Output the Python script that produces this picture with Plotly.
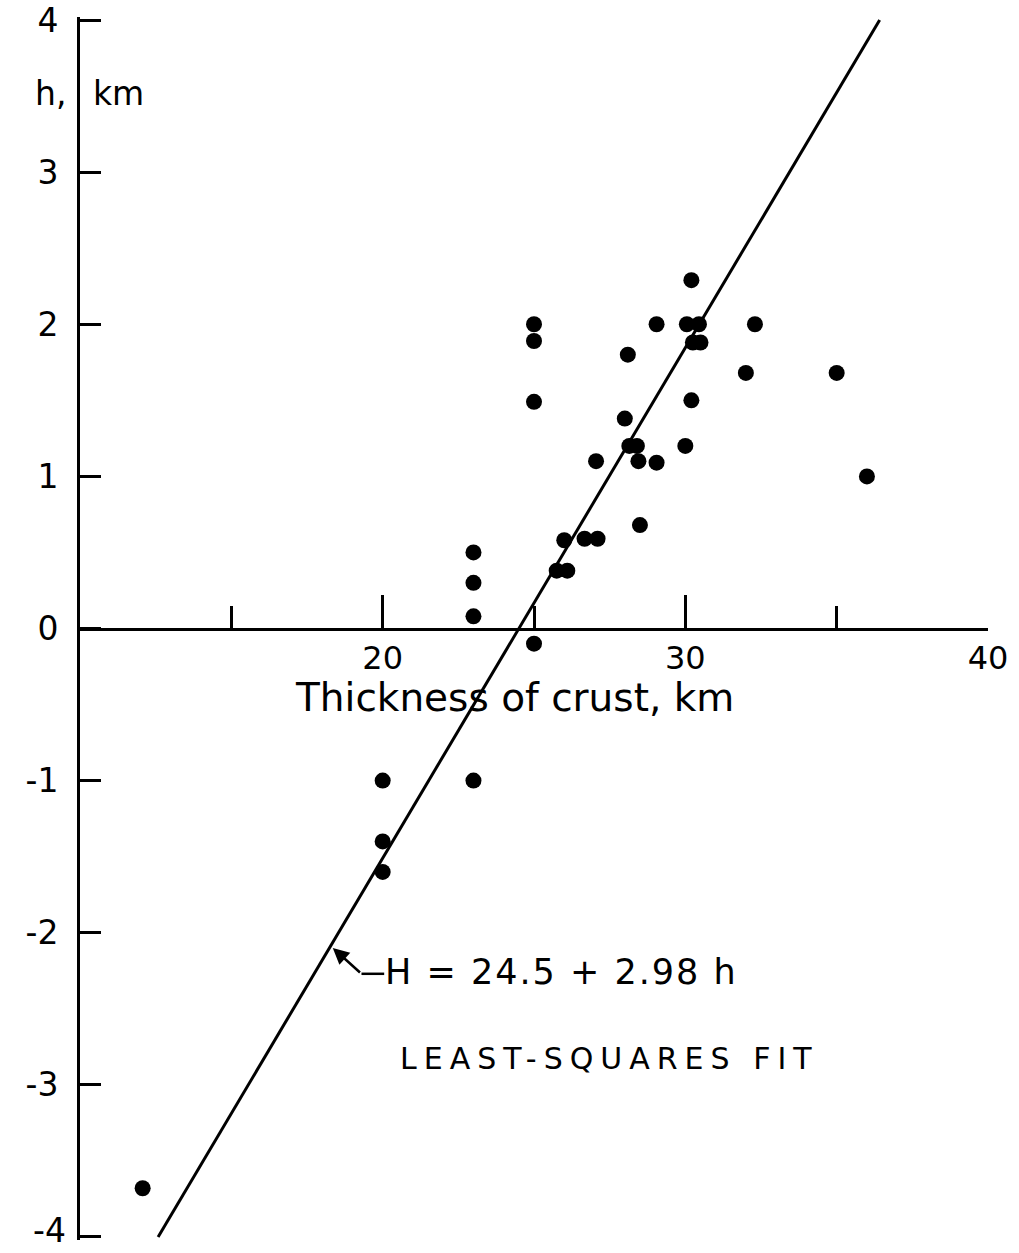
import plotly.graph_objects as go

# Observations: crustal thickness H (km) against elevation h (km)
thickness_km = [12.07, 20.0, 20.0, 20.0, 23.0, 23.0, 23.0, 23.0, 25.0, 25.0,
                25.0, 25.0, 25.75, 26.1, 26.0, 26.67, 27.1, 27.05, 28.0, 28.1,
                28.15, 28.4, 28.45, 28.5, 29.05, 29.05, 30.05, 30.45, 30.0, 30.2,
                30.2, 30.25, 30.5, 32.0, 32.3, 35.0, 36.0]
elevation_km = [-3.68, -1.0, -1.4, -1.6, -1.0, 0.5, 0.3, 0.08, -0.1, 2.0,
                1.89, 1.49, 0.38, 0.38, 0.58, 0.59, 0.59, 1.1, 1.38, 1.8,
                1.2, 1.2, 1.1, 0.68, 2.0, 1.09, 2.0, 2.0, 1.2, 2.29,
                1.5, 1.88, 1.88, 1.68, 2.0, 1.68, 1.0]

# Least-squares fit H = a + b h
fit_a = 24.5
fit_b = 2.98
fit_h = [-4.0, 4.0]
fit_H = [fit_a + fit_b * v for v in fit_h]

x_major = [20, 30, 40]
x_minor = [15, 25, 35]
y_ticks = [4, 3, 2, 1, 0, -1, -2, -3, -4]
y_labels = ["4", "3", "2", "1", "0", "-1", "-2", "-3", "-4"]

FONT = "DejaVu Sans"
INK = "black"


def spaced(text, px):
    return f'<span style="letter-spacing:{px}px">{text}</span>'


fig = go.Figure()
fig.add_trace(go.Scatter(x=fit_H, y=fit_h, mode="lines",
                         line=dict(color=INK, width=3), hoverinfo="skip"))
fig.add_trace(go.Scatter(x=thickness_km, y=elevation_km, mode="markers",
                         marker=dict(color=INK, size=16)))

# pointer from the fit line to the equation
tip_h = -2.08
tip_H = fit_a + fit_b * tip_h
fig.add_annotation(x=tip_H + 0.05, y=tip_h - 0.02, ax=19.3, ay=-2.27,
                   xref="x", yref="y", axref="x", ayref="y",
                   text="", showarrow=True, arrowhead=2, arrowsize=1.3,
                   arrowwidth=2.5, arrowcolor=INK)
fig.add_shape(type="line", x0=19.3, y0=-2.27, x1=20.05, y1=-2.27,
              xref="x", yref="y", line=dict(color=INK, width=2.5))
fig.add_annotation(x=20.0, y=-2.26, xref="x", yref="y", xanchor="left",
                   yanchor="middle", showarrow=False,
                   text=spaced("H = 24.5 + 2.98 h", 2),
                   font=dict(family=FONT, size=35, color=INK))
fig.add_annotation(x=20.5, y=-2.83, xref="x", yref="y", xanchor="left",
                   yanchor="middle", showarrow=False,
                   text=spaced("LEAST-SQUARES FIT", 7),
                   font=dict(family=FONT, size=30, color=INK))

# axis titles
fig.add_annotation(x=24.35, y=-0.455, xref="x", yref="y", showarrow=False,
                   text="Thickness of crust, km",
                   font=dict(family=FONT, size=39, color=INK))
fig.add_annotation(x=-0.013, y=3.52, xref="paper", yref="y",
                   xanchor="right", showarrow=False, text="h,",
                   font=dict(family=FONT, size=33, color=INK))
fig.add_annotation(x=10.35, y=3.52, xref="x", yref="y",
                   xanchor="left", showarrow=False, text="km",
                   font=dict(family=FONT, size=33, color=INK))

# lowest y label sits on the page edge, so it is set just inside the page
axis_labels = list(y_labels)
axis_labels[-1] = ""
fig.add_annotation(x=-0.0132, y=-0.0098, xref="paper", yref="paper",
                   xanchor="right", yanchor="bottom", showarrow=False,
                   text=y_labels[-1],
                   font=dict(family=FONT, size=33, color=INK))

fig.update_layout(
    width=1019, height=1253,
    margin=dict(l=80, r=31, t=17, b=13, autoexpand=False),
    paper_bgcolor="white", plot_bgcolor="white",
    showlegend=False,
    xaxis=dict(range=[10, 40], anchor="free", position=0.5, side="bottom",
               automargin=False, ticklabeloverflow="allow",
               showgrid=False, zeroline=False, showline=True,
               linecolor=INK, linewidth=3,
               tickmode="array", tickvals=x_major,
               ticks="inside", ticklen=33, tickwidth=3, tickcolor=INK,
               tickfont=dict(family=FONT, size=32, color=INK),
               minor=dict(tickmode="array", tickvals=x_minor, ticks="inside",
                          ticklen=22, tickwidth=3, tickcolor=INK,
                          showgrid=False)),
    yaxis=dict(range=[-4.02, 4.02], automargin=False,
               ticklabeloverflow="allow",
               showgrid=False, zeroline=False,
               showline=True, linecolor=INK, linewidth=3,
               tickmode="array", tickvals=y_ticks, ticktext=axis_labels,
               ticks="inside", ticklen=21, tickwidth=3, tickcolor=INK,
               ticklabelstandoff=12,
               tickfont=dict(family=FONT, size=33, color=INK)),
)

fig.write_html("out.html")
